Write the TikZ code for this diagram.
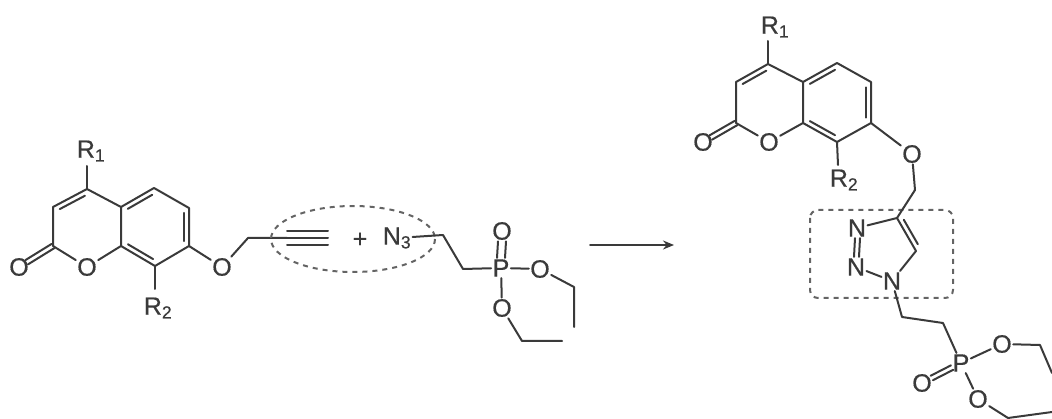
\documentclass[tikz,border=0pt]{standalone}
\usepackage{fontspec}
\setmainfont[FakeBold=0.5]{Liberation Sans}
\usetikzlibrary{calc,arrows.meta}
\definecolor{ink}{RGB}{58,58,58}
\definecolor{dash}{RGB}{100,100,100}
\tikzset{
  bond/.style={draw=ink,line width=2pt,line cap=round,line join=round},
  atom/.style={text=ink,font=\fontsize{25}{25}\selectfont,inner sep=1.5pt,outer sep=0pt},
  guide/.style={draw=dash,line width=2pt,dash pattern=on 5pt off 5pt},
}
\newcommand\innerbond[3]{\draw[bond] ($(#1)!.13!(#2)!#3!90:(#2)$) -- ($(#2)!.13!(#1)!-#3!90:(#1)$);}
\begin{document}
\begin{tikzpicture}[x=1pt,y=-1pt]
\useasboundingbox (0,0) rectangle (1052,419);
% left coumarin
\coordinate (a3) at (53,207); \coordinate (a2) at (53,246); \coordinate (a4) at (87,189);
\coordinate (a4a) at (121,207); \coordinate (a8a) at (121,246); \coordinate (a5) at (154,188);
\coordinate (a6) at (189,208); \coordinate (a7) at (189,246); \coordinate (a8) at (155,266);
\coordinate (ach) at (248,238); \coordinate (at) at (287,238); \coordinate (ae) at (328,238);
\node[atom] (aOc) at (19,267) {O};
\node[atom] (aO1) at (87,267) {O};
\node[atom] (aO7) at (222,267) {O};
\node[atom] (aR1) at (91,151) {R\textsubscript{1}};
\node[atom] (aR2) at (158,308) {R\textsubscript{2}};
\draw[bond] (aO1) -- (a2) -- (a3) -- (a4) -- (a4a) -- (a8a) -- (aO1);
\draw[bond] (a4a) -- (a5) -- (a6) -- (a7) -- (a8) -- (a8a);
\draw[bond] (a4) -- (87,166);
\draw[bond] (a8) -- (155,289);
\draw[bond] (a7) -- (aO7) -- (ach) -- (at);
\draw[bond] (at) -- (ae);
\draw[bond] ($(at)+(0,-7)$) -- ($(ae)+(0,-7)$);
\draw[bond] ($(at)+(0,7)$) -- ($(ae)+(0,7)$);
\innerbond{a3}{a4}{-5pt}
\innerbond{a4a}{a5}{-5pt}
\innerbond{a6}{a7}{-5pt}
\innerbond{a8}{a8a}{-5pt}
\draw[bond] ($(a2)!0.0!(aOc)!2.5pt!90:(aOc)$) -- ($(aOc)!9pt!(a2)!-2.5pt!90:(a2)$);
\draw[bond] ($(a2)!0.0!(aOc)!-2.5pt!90:(aOc)$) -- ($(aOc)!9pt!(a2)!2.5pt!90:(a2)$);
% ellipse, plus, azide
\draw[guide] (353,239) ellipse [x radius=82,y radius=33];
\node[atom] (plus) at (360,240) {+};
\node[atom] (N3) at (397,238) {N\textsubscript{3}};
% phosphonate left
\coordinate (b1) at (443,235); \coordinate (b2) at (463,269);
\coordinate (be1) at (574,287); \coordinate (be2) at (574,327);
\coordinate (bf1) at (522,341); \coordinate (bf2) at (562,341);
\node[atom] (bP) at (501,268) {P};
\node[atom] (bO1) at (502,231) {O};
\node[atom] (bO2) at (540,269) {O};
\node[atom] (bO3) at (502,308) {O};
\draw[bond] (N3) -- (b1) -- (b2) -- (bP);
\draw[bond] (bP) -- (bO2) -- (be1) -- (be2);
\draw[bond] (bP) -- (bO3) -- (bf1) -- (bf2);
\draw[bond] ($(bP.north)+(-4,0)$) -- ($(bO1.south)+(-4,0)$);
\draw[bond] ($(bP.north)+(4,0)$) -- ($(bO1.south)+(4,0)$);
% arrow
\coordinate (arrS) at (590,245); \coordinate (arrE) at (674,245);
\draw[bond,-{Stealth[length=11pt,width=9pt]}] (arrS) -- (arrE);
% right coumarin
\coordinate (c3) at (736,82); \coordinate (c2) at (736,123); \coordinate (c4) at (768,64);
\coordinate (c4a) at (803,82); \coordinate (c8a) at (803,123); \coordinate (c5) at (837,63);
\coordinate (c6) at (871,82); \coordinate (c7) at (871,123); \coordinate (c8) at (837,142);
\coordinate (cch) at (915,190);
\node[atom] (cOc) at (703,142) {O};
\node[atom] (cO1) at (769,142) {O};
\node[atom] (cO7) at (912,154) {O};
\node[atom] (cR1) at (775,27) {R\textsubscript{1}};
\node[atom] (cR2) at (844,180) {R\textsubscript{2}};
\draw[bond] (cO1) -- (c2) -- (c3) -- (c4) -- (c4a) -- (c8a) -- (cO1);
\draw[bond] (c4a) -- (c5) -- (c6) -- (c7) -- (c8) -- (c8a);
\draw[bond] (c4) -- (768,41);
\draw[bond] (c8) -- (838,165);
\draw[bond] (c7) -- (cO7) -- (cch);
\innerbond{c3}{c4}{-5pt}
\innerbond{c4a}{c5}{-5pt}
\innerbond{c6}{c7}{-5pt}
\innerbond{c8}{c8a}{-5pt}
\draw[bond] ($(c2)!0.0!(cOc)!2.5pt!90:(cOc)$) -- ($(cOc)!9pt!(c2)!-2.5pt!90:(c2)$);
\draw[bond] ($(c2)!0.0!(cOc)!-2.5pt!90:(cOc)$) -- ($(cOc)!9pt!(c2)!2.5pt!90:(c2)$);
% triazole
\draw[guide,rounded corners=8pt] (810,210) rectangle (953,298);
\coordinate (t4) at (897,218); \coordinate (t5) at (916,251);
\node[atom] (tN3) at (857,228) {N};
\node[atom] (tN2) at (856,267) {N};
\node[atom] (tN1) at (892,281) {N};
\draw[bond] (cch) -- (t4) -- (tN3);
\draw[bond] (t4) -- (t5) -- (tN1) -- (tN2);
\innerbond{t5}{t4}{-5pt}
\draw[bond] ($(tN3.south)+(3,0)$) -- ($(tN2.north)+(3,0)$);
\draw[bond] ($(tN3.south)+(-2,0)$) -- ($(tN2.north)+(-2,0)$);
% right phosphonate
\coordinate (d1) at (902,317); \coordinate (d2) at (943,323);
\coordinate (e1) at (1040,345); \coordinate (e2) at (1052,373);
\coordinate (f1) at (1008,418); \coordinate (f2) at (1052,412);
\node[atom] (dP) at (961,363) {P};
\node[atom] (dO1) at (922,383) {O};
\node[atom] (dO2) at (1002,344) {O};
\node[atom] (dO3) at (978,399) {O};
\draw[bond] (tN1) -- (d1) -- (d2) -- (dP);
\draw[bond] (dP) -- (dO2) -- (e1) -- (e2);
\draw[bond] (dP) -- (dO3) -- (f1) -- (f2);
\draw[bond] ($(dP)!10pt!(dO1)!2.5pt!90:(dO1)$) -- ($(dO1)!11pt!(dP)!-2.5pt!90:(dP)$);
\draw[bond] ($(dP)!10pt!(dO1)!-2.5pt!90:(dO1)$) -- ($(dO1)!11pt!(dP)!2.5pt!90:(dP)$);
\end{tikzpicture}
\end{document}
